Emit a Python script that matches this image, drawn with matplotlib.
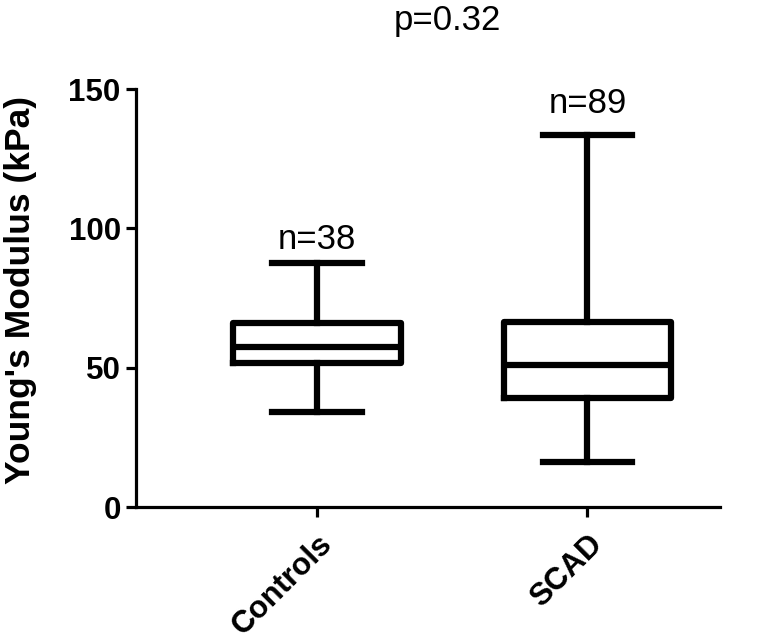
import matplotlib
matplotlib.use('Agg')
import matplotlib.pyplot as plt

# box plot summary (kPa)
groups = ['Controls', 'SCAD']
n_counts = [38, 89]
whisker_low = [34.2, 16.3]
q1 = [51.6, 39.0]
median = [57.3, 51.0]
q3 = [65.9, 66.3]
whisker_high = [87.5, 133.5]
n_label_y = [92.5, 141.5]
p_text = 'p=0.32'

plt.rcParams['font.family'] = ['Liberation Sans', 'DejaVu Sans']

fig = plt.figure(figsize=(7.74, 6.4), dpi=100)
ax = fig.add_axes([0.1757, 0.2078, 0.7543, 0.6531])

stats = []
for i, g in enumerate(groups):
    stats.append({'label': g, 'whislo': whisker_low[i], 'q1': q1[i], 'med': median[i],
                  'q3': q3[i], 'whishi': whisker_high[i], 'fliers': []})

lw = 4.5
positions = list(range(1, len(groups) + 1))
ax.bxp(stats, positions=positions, widths=0.62, showfliers=False,
       boxprops=dict(color='black', linewidth=lw),
       medianprops=dict(color='black', linewidth=lw),
       whiskerprops=dict(color='black', linewidth=lw),
       capprops=dict(color='black', linewidth=lw),
       capwidths=0.33)

for pos, n, y in zip(positions, n_counts, n_label_y):
    ax.text(pos, y, f'n={n}', ha='center', va='baseline', fontsize=25)

fig.text(447 / 774, 1 - 30 / 640, p_text, ha='center', va='baseline', fontsize=25)

ax.set_xlim(0.33, 2.49)
ax.set_ylim(0, 150)
ax.set_yticks([0, 50, 100, 150])
ax.set_xticks(positions)
ax.set_xticklabels(groups, rotation=45, ha='right', rotation_mode='anchor',
                   fontsize=22.5, fontweight='bold')
for lab in ax.get_yticklabels():
    lab.set_fontsize(22.5)
    lab.set_fontweight('bold')

ax.set_ylabel("Young's Modulus (kPa)", fontsize=25.5, fontweight='bold')
ax.yaxis.set_label_coords(-0.17, 0.52)

for side in ['top', 'right']:
    ax.spines[side].set_visible(False)
for side in ['left', 'bottom']:
    ax.spines[side].set_linewidth(2.3)
ax.tick_params(axis='both', length=7, width=2.3, direction='out', pad=4)
ax.tick_params(axis='x', pad=9)

plt.savefig('out.png', dpi=100)
plt.close()
